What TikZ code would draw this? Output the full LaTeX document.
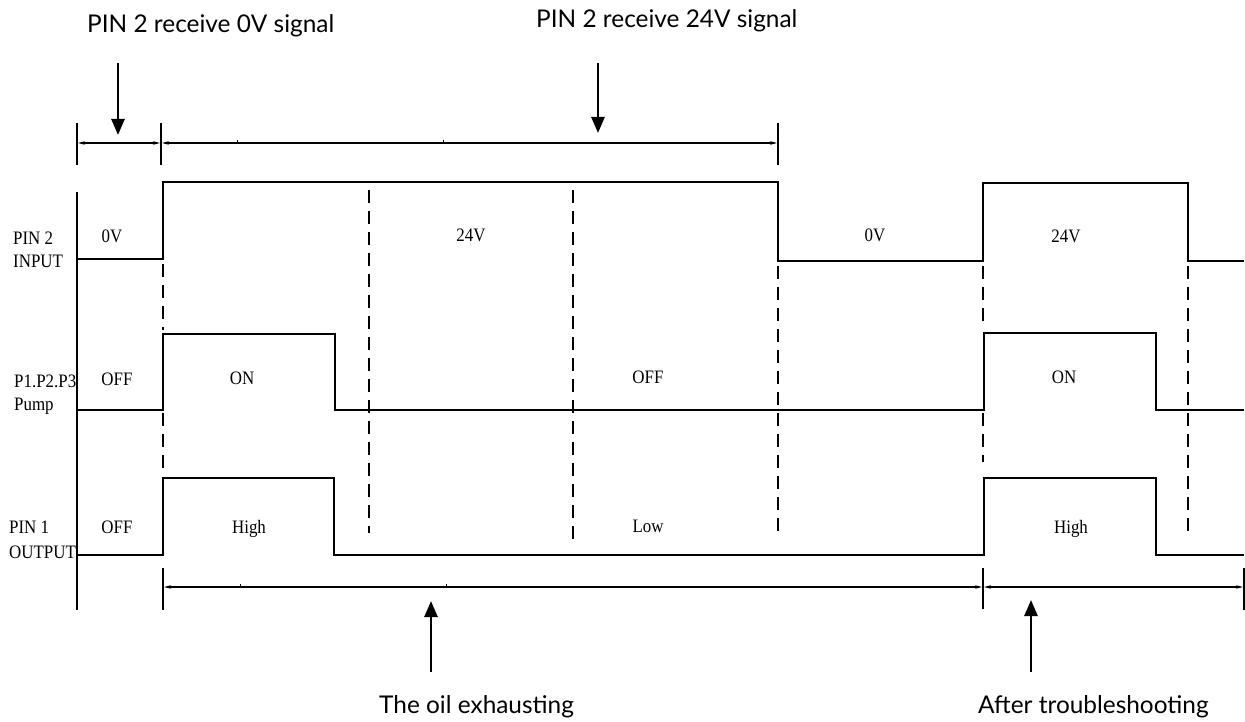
\documentclass[tikz,border=0pt]{standalone}
\usepackage{fontspec}
\setmainfont{Liberation Serif}
\newfontfamily\annfont{Lato}
\newfontfamily\lblfont[FakeStretch=0.89]{Liberation Serif}
\usetikzlibrary{arrows.meta}
\begin{document}
\begin{tikzpicture}[x=1pt,y=-1pt,
  wave/.style={line width=2.1pt, line join=miter},
  guide/.style={line width=1.9pt, dash pattern=on 13pt off 8pt},
  tickline/.style={line width=1.9pt},
  dimline/.style={line width=1.1pt, {Stealth[length=7pt,width=3.5pt]}-{Stealth[length=7pt,width=3.5pt]}},
  bigarrow/.style={line width=2.6pt, -{Triangle[length=16pt,width=13pt]}},
  sig/.style={font=\lblfont\fontsize{19}{22}\selectfont, inner sep=0pt, anchor=base},
  lab/.style={font=\lblfont\fontsize{19}{22}\selectfont, inner sep=0pt, anchor=base west},
  ann/.style={font=\annfont\fontsize{24.4}{28}\selectfont, inner sep=0pt, anchor=base west},
]
\useasboundingbox (0,0) rectangle (1245,722);

% annotation texts
\node[ann] (t0) at (87,33) {PIN 2 receive 0V signal};
\node[ann] (t1) at (536,28) {PIN 2 receive 24V signal};
\node[ann] (t2) at (379,713) {The oil exhausting};
\node[ann] (t3) at (978,713) {After troubleshooting};

% big arrows
\coordinate (a0t) at (118,63); \coordinate (a0h) at (118,135);
\coordinate (a1t) at (598,63); \coordinate (a1h) at (598,133);
\coordinate (a2t) at (431,672); \coordinate (a2h) at (431,601);
\coordinate (a3t) at (1031,672); \coordinate (a3h) at (1031,600);
\draw[bigarrow] (a0t) -- (a0h);
\draw[bigarrow] (a1t) -- (a1h);
\draw[bigarrow] (a2t) -- (a2h);
\draw[bigarrow] (a3t) -- (a3h);

% top dimension
\draw[tickline] (77,123) -- (77,165);
\draw[tickline] (161,123) -- (161,165);
\draw[tickline] (778,123) -- (778,165);
\draw[dimline] (78,143) -- (160,143);
\draw[dimline] (162,143) -- (777,143);
\draw[line width=0.8pt] (237,143) -- (237,140);
\draw[line width=0.8pt] (443,143) -- (443,140);

% left axis
\draw[tickline] (77,192) -- (77,610);

% bottom dimension
\draw[tickline] (163,568) -- (163,610);
\draw[tickline] (983,568) -- (983,609);
\draw[tickline] (1244,568) -- (1244,610);
\draw[dimline] (164,587) -- (982,587);
\draw[dimline] (984,587) -- (1243,587);
\draw[line width=0.8pt] (240,587) -- (240,584);
\draw[line width=0.8pt] (446,587) -- (446,584);

% waveforms
\draw[wave] (77,259) -- (163,259) -- (163,182) -- (778,182) -- (778,261) -- (983,261) -- (983,183) -- (1188,183) -- (1188,261) -- (1244,261);
\draw[wave] (77,410) -- (163,410) -- (163,334) -- (335,334) -- (335,410) -- (984,410) -- (984,333) -- (1156,333) -- (1156,410) -- (1244,410);
\draw[wave] (77,555) -- (163,555) -- (163,478) -- (334,478) -- (334,555) -- (984,555) -- (984,478) -- (1156,478) -- (1156,555) -- (1244,555);

% dashed guides
\draw[guide] (163,264) -- (163,330);
\draw[guide] (163,413) -- (163,470);
\draw[guide] (369,190) -- (369,533);
\draw[guide] (573,190) -- (573,540);
\draw[guide] (778,266) -- (778,537);
\draw[guide] (983,266) -- (983,322);
\draw[guide] (983,413) -- (983,462);
\draw[guide] (1188,266) -- (1188,537);

% left labels
\node[lab] (l1a) at (13,244) {PIN 2};
\node[lab] (l1b) at (13,268) {INPUT};
\node[lab] (l2a) at (14,387) {P1.P2.P3};
\node[lab] (l2b) at (14,410) {Pump};
\node[lab] (l3a) at (9,533) {PIN 1};
\node[lab] (l3b) at (9,558) {OUTPUT};

% state labels
\node[sig] (s1) at (112,243) {0V};
\node[sig] (s2) at (471,241) {24V};
\node[sig] (s3) at (875,242) {0V};
\node[sig] (s4) at (1066,243) {24V};
\node[sig] (p1) at (117,385) {OFF};
\node[sig] (p2) at (242,384) {ON};
\node[sig] (p3) at (648,383) {OFF};
\node[sig] (p4) at (1064,383) {ON};
\node[sig] (o1) at (117,533) {OFF};
\node[sig] (o2) at (249,533) {High};
\node[sig] (o3) at (648,532) {Low};
\node[sig] (o4) at (1071,533) {High};
\end{tikzpicture}
\end{document}
